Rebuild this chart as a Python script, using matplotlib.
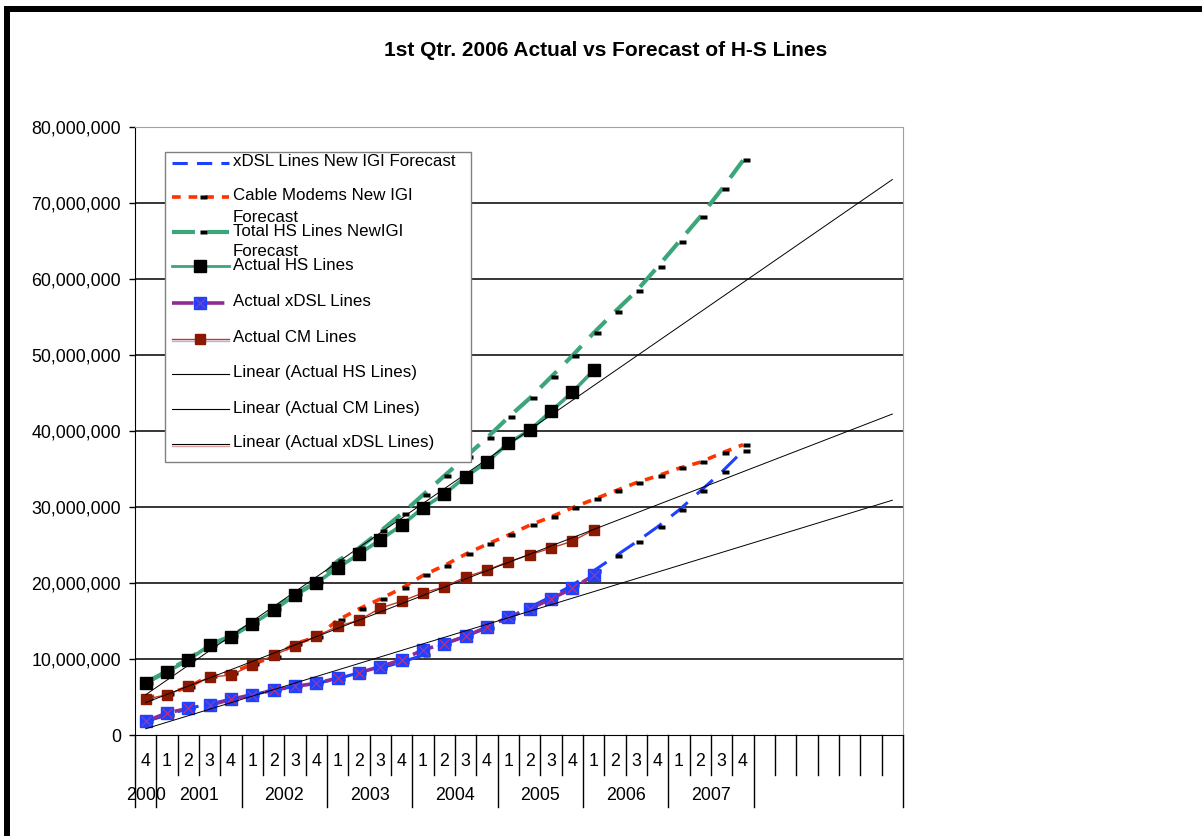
import numpy as np
import matplotlib
matplotlib.use("Agg")
import matplotlib.pyplot as plt
from matplotlib.lines import Line2D
from matplotlib.patches import Rectangle
from matplotlib.path import Path
from matplotlib.ticker import FuncFormatter
from matplotlib.transforms import blended_transform_factory

plt.rcParams["font.family"] = ["Liberation Sans", "DejaVu Sans"]

# quarterly values in millions of lines, starting 2000 Q4
actual_hs = [6.8, 8.3, 9.9, 11.8, 12.9, 14.6, 16.4, 18.4, 20.0, 22.0, 23.8,
             25.7, 27.6, 29.9, 31.7, 34.0, 35.9, 38.4, 40.1, 42.6, 45.1, 48.0]
actual_cm = [4.7, 5.3, 6.4, 7.6, 7.9, 9.2, 10.5, 11.7, 13.0, 14.3, 15.1,
             16.7, 17.6, 18.7, 19.5, 20.8, 21.7, 22.8, 23.7, 24.6, 25.5, 27.0]
actual_xdsl = [1.8, 2.9, 3.5, 3.9, 4.7, 5.3, 5.9, 6.4, 6.8, 7.5, 8.2,
               9.0, 9.9, 11.2, 12.0, 13.0, 14.2, 15.5, 16.6, 17.9, 19.3, 21.0]

forecast_hs = [6.9, 8.4, 10.0, 11.9, 13.0, 14.7, 16.6, 18.5, 20.1, 22.9, 24.6,
               26.8, 29.1, 31.6, 34.1, 36.6, 39.1, 41.8, 44.3, 47.1, 49.9, 52.9,
               55.7, 58.4, 61.6, 64.9, 68.2, 71.8, 75.6]
forecast_cm = [4.9, 5.4, 6.3, 7.8, 8.2, 9.3, 10.3, 12.0, 12.9, 15.1, 16.6,
               17.9, 19.3, 21.0, 22.3, 23.8, 25.1, 26.3, 27.6, 28.7, 29.9, 31.0,
               32.1, 33.2, 34.1, 35.1, 35.9, 37.1, 38.2]
forecast_xdsl = [1.8, 2.6, 3.5, 4.1, 4.7, 5.3, 5.9, 6.4, 6.8, 7.4, 8.2,
                 8.8, 9.6, 10.5, 12.0, 13.0, 14.1, 15.4, 16.8, 18.2, 19.7, 21.6,
                 23.5, 25.4, 27.4, 29.6, 32.1, 34.6, 37.4]

quarter_labels = ["4",
                  "1", "2", "3", "4", "1", "2", "3", "4", "1", "2", "3", "4",
                  "1", "2", "3", "4", "1", "2", "3", "4", "1", "2", "3", "4",
                  "1", "2", "3", "4"]
years = ["2000", "2001", "2002", "2003", "2004", "2005", "2006", "2007"]
year_quarters = [1, 4, 4, 4, 4, 4, 4, 4]
n_slots = 36          # category slots on the axis (incl. empty ones)
trend_periods = 35    # trendlines run forward to this slot

GREEN = "#3AA67A"
BLUE = "#1E40FF"
RED = "#FF3300"
PURPLE = "#8E2C96"
DARKRED = "#8B1800"
CMLINE = "#C23A2A"
PINK = "#D0307A"

TICK_FS = 12.8
LEG_FS = 12.2

W, H = 1202, 836
fig = plt.figure(figsize=(W / 100, H / 100), dpi=100)
ax = fig.add_axes([135 / W, 1 - 735 / H, 768 / W, 608 / H])

# small black dash marker sitting to the right of the point
tick = Path([(0, -0.22), (1, -0.22), (1, 0.22), (0, 0.22), (0, -0.22)], closed=True)
tick_kw = dict(marker=tick, ms=10, mfc="k", mec="none")

x_fc = np.arange(len(forecast_hs)) + 0.5
x_act = np.arange(len(actual_hs)) + 0.5

# forecasts
ax.plot(x_fc, forecast_xdsl, color=BLUE, lw=2.2, dashes=(7, 4), **tick_kw)
ax.plot(x_fc, forecast_cm, color=RED, lw=2.6, dashes=(2.4, 2.2), **tick_kw)
ax.plot(x_fc, forecast_hs, color=GREEN, lw=3.0, dashes=(5.5, 3), **tick_kw)

# actuals
ax.plot(x_act, actual_hs, color=GREEN, lw=2.6, marker="s", ms=8.5, mfc="k", mec="k")
ax.plot(x_act, actual_xdsl, color=PURPLE, lw=2.6, dashes=(6, 2.5),
        marker="s", ms=9, mfc=BLUE, mec=BLUE)
ax.plot(x_act, actual_xdsl, ls="none", marker="x", ms=7, mec=PINK, mew=0.7)
ax.plot(x_act, actual_cm, color=CMLINE, lw=1.0, marker="s", ms=7, mfc=DARKRED, mec=DARKRED)

# linear trendlines with forward forecast
idx = np.arange(len(actual_hs))
span = np.array([0, trend_periods])
for series in (actual_hs, actual_cm, actual_xdsl):
    coef = np.polyfit(idx, series, 1)
    ax.plot(span + 0.5, np.polyval(coef, span), color="k", lw=0.7)

ax.set_xlim(0, n_slots)
ax.set_ylim(0, 80)
yticks = np.arange(0, 81, 10)
ax.set_yticks(yticks)
ax.yaxis.set_major_formatter(FuncFormatter(lambda v, p: f"{v * 1e6:,.0f}"))
ax.tick_params(axis="y", direction="out", length=4, width=1, pad=6, labelsize=TICK_FS)
ax.set_xticks([])
for v in yticks[1:-1]:
    ax.axhline(v, color="k", lw=1.1, zorder=0.5)
for s in ("top", "right"):
    ax.spines[s].set_color("#A0A0A0")
for s in ("left", "bottom"):
    ax.spines[s].set_color("k")

# two-level category axis
trans = blended_transform_factory(ax.transData, ax.transAxes)
px = 1 / 608
year_bounds = set(np.concatenate([[0], np.cumsum(year_quarters)]).tolist() + [n_slots])
for b in range(n_slots + 1):
    depth = 72 if b in year_bounds else 40
    ax.plot([b, b], [0, -depth * px], color="k", lw=1, transform=trans, clip_on=False)
for i, q in enumerate(quarter_labels):
    ax.text(i + 0.5, -26 * px, q, ha="center", va="center", fontsize=TICK_FS, transform=trans)
start = 0
for yr, n in zip(years, year_quarters):
    ax.text(start + n / 2, -61 * px, yr, ha="center", va="center", fontsize=TICK_FS,
            transform=trans)
    start += n

fig.text(606 / W, 1 - 50 / H, "1st Qtr. 2006 Actual vs Forecast of H-S Lines",
         ha="center", va="center", fontsize=15, fontweight="bold")

# page border (top and left)
fig.add_artist(Rectangle((4 / W, 0), 6 / W, 1 - 6 / H, transform=fig.transFigure,
                         fc="k", ec="none"))
fig.add_artist(Rectangle((4 / W, 1 - 12 / H), 1, 6 / H, transform=fig.transFigure,
                         fc="k", ec="none"))

# legend box, drawn by hand to mimic the spreadsheet layout
fig.add_artist(Rectangle((165 / W, 1 - 462 / H), 306 / W, 310 / H, transform=fig.transFigure,
                         fc="white", ec="#808080", lw=1, zorder=3))


def fy(y):
    return 1 - y / H


hx = np.array([172, 200, 229]) / W


def handle(y, dy=0, **kw):
    fig.add_artist(Line2D(hx, [fy(y + dy)] * 3, transform=fig.transFigure,
                          markevery=[1], zorder=4, **kw))


legend_rows = [
    ("xDSL Lines New IGI Forecast", 163),
    ("Cable Modems New IGI\nForecast", 197),
    ("Total HS Lines NewIGI\nForecast", 232),
    ("Actual HS Lines", 266),
    ("Actual xDSL Lines", 303),
    ("Actual CM Lines", 339),
    ("Linear (Actual HS Lines)", 374),
    ("Linear (Actual CM Lines)", 409),
    ("Linear (Actual xDSL Lines)", 444),
]
for label, y in legend_rows:
    for k, line in enumerate(label.split("\n")):
        fig.text(233 / W, fy(y - 1 + k * 21), line, va="center", ha="left",
                 fontsize=LEG_FS, zorder=5)

y = [r[1] for r in legend_rows]
handle(y[0], color=BLUE, lw=2.2, dashes=(5, 3))
handle(y[1], color=RED, lw=2.6, dashes=(2.4, 2.2), **tick_kw)
handle(y[2], color=GREEN, lw=3.0, dashes=(5.5, 3), **tick_kw)
handle(y[3], color=GREEN, lw=2.0, marker="s", ms=8.5, mfc="k", mec="k")
handle(y[4], color=PURPLE, lw=2.6, dashes=(6, 2.5), marker="s", ms=9, mfc=BLUE, mec=BLUE)
handle(y[4], ls="none", marker="x", ms=7, mec=PINK, mew=0.7)
handle(y[5], dy=1.5, color="#A8B8E6", lw=1.0)
handle(y[5], color=CMLINE, lw=1.0, marker="s", ms=7, mfc=DARKRED, mec=DARKRED)
handle(y[6], color="k", lw=0.8)
handle(y[7], color="k", lw=0.8)
handle(y[8], dy=2, color="#E0A0A0", lw=1.0)
handle(y[8], color="k", lw=0.8)

fig.savefig("out.png", dpi=100)
